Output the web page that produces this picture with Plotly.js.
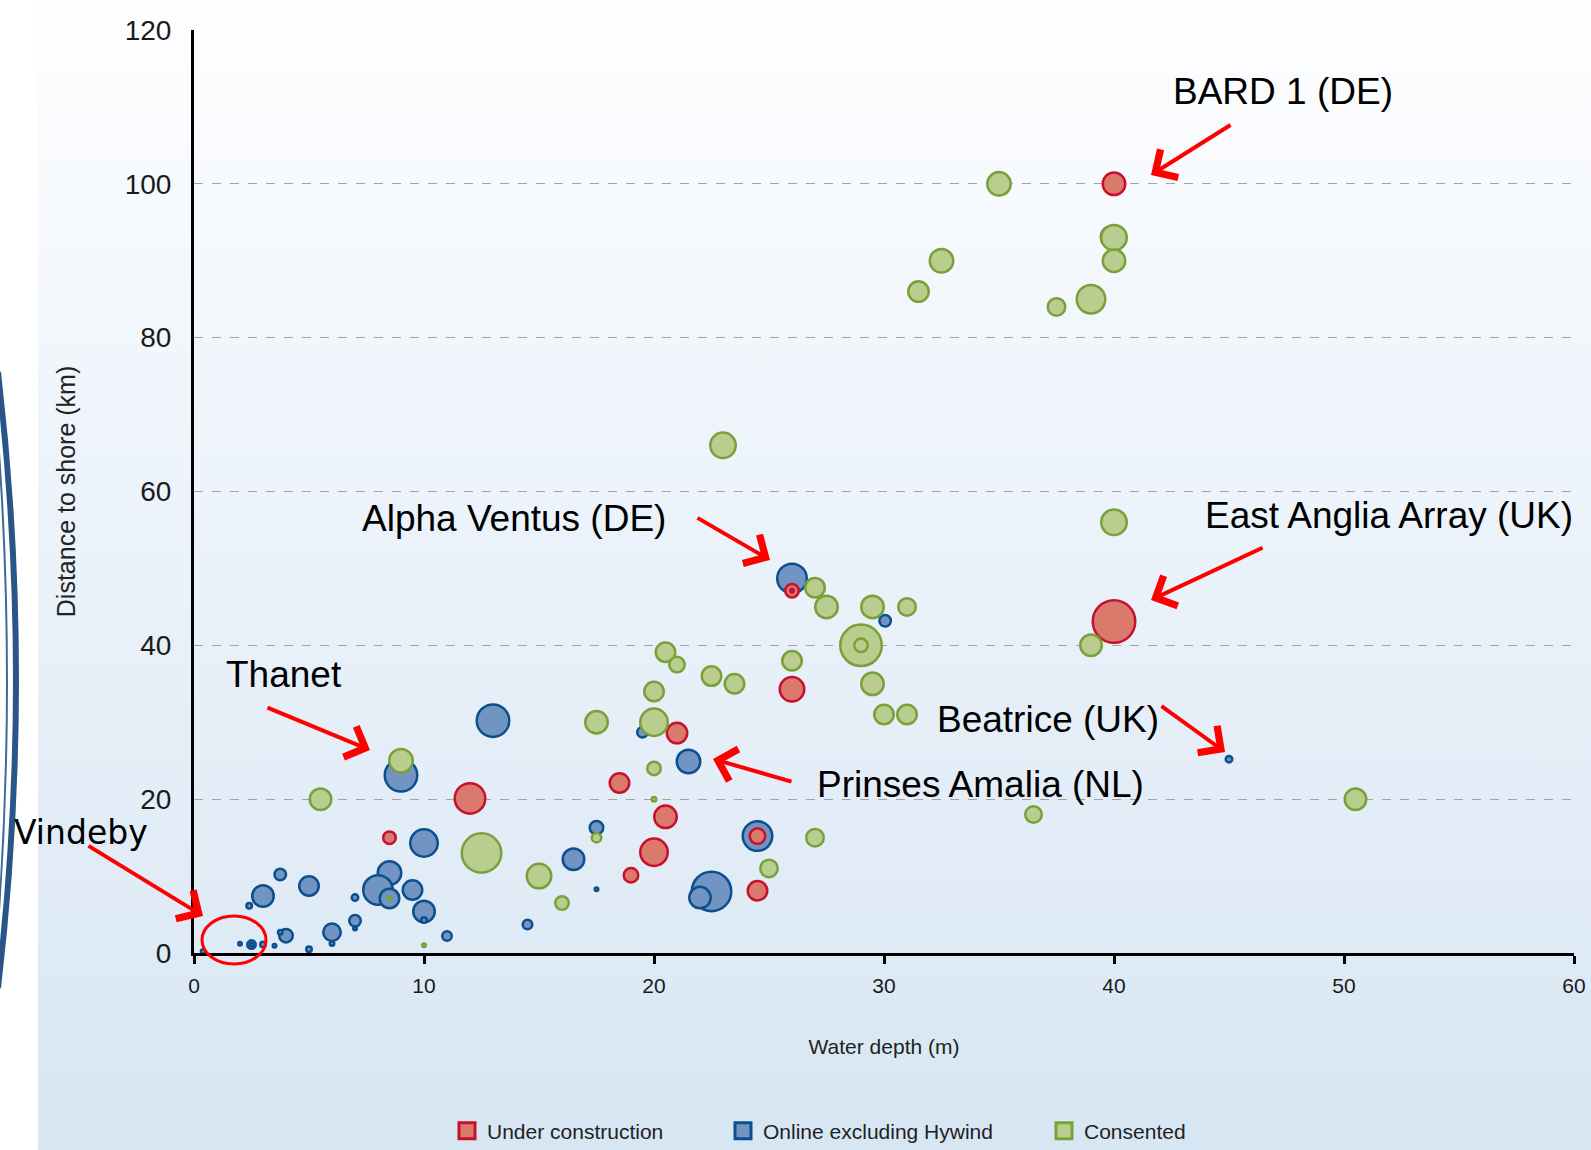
<!DOCTYPE html>
<html><head><meta charset="utf-8">
<script src="https://cdn.plot.ly/plotly-3.0.1.min.js"></script>
<style>
html,body{margin:0;padding:0;background:#fff;overflow:hidden;width:1591px;height:1150px;}
#bg{position:absolute;left:38px;top:0;width:1553px;height:1150px;background:linear-gradient(to bottom,#fefeff 0%,#eff5fb 35%,#e3edf7 70%,#d7e6f3 100%);}
#chart{position:absolute;left:0;top:0;width:1591px;height:1150px;}
</style></head><body><div id="bg"></div><div id="chart"></div>
<script>
// ---- Data: water depth (m), distance to shore (km), bubble diameter (px) ----
const underX = [40, 39.9, 40, 26, 26, 26, 21, 18.5, 12, 20.5, 20, 19, 24.5, 24.5, 8.5];
const underY = [100, 93.1, 43.1, 47.1, 47.1, 34.3, 28.6, 22.1, 20.1, 17.7, 13.1, 10.1, 15.2, 8.1, 15.0];
const underD = [25, 24, 45, 16, 6, 27, 23, 22, 33, 25, 30, 17, 18, 22, 15];

const onlineX = [26, 30.05, 13, 9, 21.5, 19.5, 45, 10, 24.5, 17.5, 16.5, 22.5, 22.0, 17.5, 14.5,
  8.5, 8.0, 8.5, 9.5, 10.0, 10.0, 11.0, 5.0, 3.0, 3.75, 2.4, 7.0, 7.0, 7.0, 6.0, 6.0, 4.0, 3.75,
  5.0, 2.0, 2.5, 2.5, 3.0, 3.5, 0.4];
const onlineY = [48.7, 43.2, 30.2, 23.1, 24.9, 28.7, 25.2, 14.3, 15.2, 16.3, 12.2, 8.0, 7.2, 8.3, 3.7,
  10.4, 8.2, 7.1, 8.2, 5.4, 4.3, 2.2, 8.7, 7.4, 10.2, 6.15, 7.2, 4.2, 3.2, 2.7, 1.25, 2.25, 2.7,
  0.5, 1.2, 1.1, 1.1, 1.1, 0.95, 0.2];
const onlineD = [32, 14, 35, 35, 26, 13, 9, 30, 32, 16, 24, 42, 24, 6, 12,
  26, 32, 22, 22, 24, 8, 12, 22, 24, 14, 8, 9, 14, 6, 20, 7, 16, 7,
  8, 6, 11, 6, 8, 6, 7];

const consX = [35, 40, 40, 32.5, 31.5, 37.5, 39, 23, 40, 39, 27, 27.5, 29.5, 31, 29, 29, 29.5, 30, 31,
  26, 20.5, 21, 22.5, 23.5, 20, 17.5, 20, 20, 20, 9, 5.5, 12.5, 15, 16, 17.5, 25, 27, 36.5, 50.5, 8.5, 10];
const consY = [100, 93, 90, 90, 86, 84, 85, 66, 56, 40, 47.5, 45, 45, 45, 40, 40, 35, 31, 31,
  38, 39.1, 37.5, 36, 35, 34, 30, 30, 24, 20, 25, 20, 13, 10, 6.5, 15, 11, 15, 18, 20, 7.1, 1];
const consD = [26, 28, 25, 26, 23, 20, 31, 28, 28, 24, 22, 25, 25, 20, 44, 16, 25, 22, 22,
  22, 22, 18, 22, 22, 22, 25, 30, 16, 7, 26, 24, 42, 27, 16, 12, 20, 20, 19, 24, 6, 6];

const seriesNames = ['Under construction', 'Online excluding Hywind', 'Consented'];

// Callout labels (pixel positions in the 1591x1150 page) and arrows
const labelText = ['BARD 1 (DE)', 'East Anglia Array (UK)', 'Alpha Ventus (DE)', 'Thanet', 'Beatrice (UK)', 'Prinses Amalia (NL)', 'Vindeby'];
const labelPx = [[1171, 91], [1203, 515], [360, 518], [224, 674], [935, 719], [815, 784], [12, 832]];
// arrow head [px,py] and tail [px,py]
const arrowHead = [[1151, 175], [1151, 600], [1225, 752], [770, 560], [713, 759], [370, 750], [203, 916]];
const arrowTail = [[1232, 124], [1264, 547], [1160, 705], [696, 517], [793, 782], [266, 707], [87, 845]];

// ---- Geometry helpers ----
const W = 1591, H = 1150;
const M = {l: 194, r: 17, t: 30, b: 197};
const PW = W - M.l - M.r, PH = H - M.t - M.b;
const px2paperX = px => (px - M.l) / PW;
const px2paperY = py => (H - M.b - py) / PH;

const LW = 2.5;
function trace(x, y, d, name, fill, line) {
  return {
    type: 'scatter', mode: 'markers', x: x, y: y, name: name,
    showlegend: false, legendgroup: name, hoverinfo: 'x+y+name',
    marker: {size: d.map(v => Math.max(v - LW, 2)), sizemode: 'diameter', color: fill,
      line: {color: line, width: LW}, opacity: 1}
  };
}
const colors = [
  {fill: '#d97a6c', line: '#c8102e'},
  {fill: '#7294c3', line: '#0b4f8e'},
  {fill: '#b9cd8f', line: '#78a13a'}
];
const data = [
  trace(onlineX, onlineY, onlineD, seriesNames[1], colors[1].fill, colors[1].line),
  trace(underX, underY, underD, seriesNames[0], colors[0].fill, colors[0].line),
  trace(consX, consY, consD, seriesNames[2], colors[2].fill, colors[2].line)
];
// legend entries (square swatches) in three separately placed legends
const legendIds = ['legend', 'legend2', 'legend3'];
seriesNames.forEach((n, i) => {
  data.push({type: 'scatter', mode: 'markers', x: [null], y: [null], name: n, legend: legendIds[i],
    legendgroup: n, showlegend: true, hoverinfo: 'skip',
    marker: {symbol: 'square', size: 16, color: colors[i].fill, line: {color: colors[i].line, width: 3}}});
});

const annFont = {family: 'Liberation Sans, Arial, sans-serif', size: 37, color: '#000'};
const annotations = [];
labelText.forEach((t, i) => {
  annotations.push({xref: 'paper', yref: 'paper', x: px2paperX(labelPx[i][0]), y: px2paperY(labelPx[i][1]),
    xanchor: 'left', yanchor: 'middle', showarrow: false, text: t,
    font: t === 'Vindeby' ? {family: 'DejaVu Sans, sans-serif', size: 33, color: '#000'} : annFont});
});
arrowHead.forEach((h, i) => {
  annotations.push({xref: 'paper', yref: 'paper', x: px2paperX(h[0]), y: px2paperY(h[1]),
    ax: arrowTail[i][0] - h[0], ay: arrowTail[i][1] - h[1], axref: 'pixel', ayref: 'pixel',
    text: '', showarrow: true, arrowhead: 4, arrowsize: 1.6, arrowwidth: 4, arrowcolor: '#ff0000', standoff: 0});
});

const shapes = [
  // ellipse around Vindeby
  {type: 'circle', xref: 'paper', yref: 'paper', x0: px2paperX(202), x1: px2paperX(266),
    y0: px2paperY(964), y1: px2paperY(916), line: {color: '#ff0000', width: 3}, fillcolor: 'rgba(0,0,0,0)'},
  // decorative arcs at the left edge
  {type: 'path', xref: 'paper', yref: 'paper', layer: 'above',
    path: `M${px2paperX(-2)},${px2paperY(372)} Q${px2paperX(34)},${px2paperY(680)} ${px2paperX(-2)},${px2paperY(988)}`,
    line: {color: '#2a5588', width: 6}},
  {type: 'path', xref: 'paper', yref: 'paper', layer: 'above',
    path: `M${px2paperX(-6)},${px2paperY(390)} Q${px2paperX(20)},${px2paperY(680)} ${px2paperX(-6)},${px2paperY(975)}`,
    line: {color: '#3d6a9e', width: 2}}
];

const sans = 'Liberation Sans, Arial, sans-serif';
const legBase = {orientation: 'h', xanchor: 'left', yanchor: 'middle', xref: 'container', yref: 'container',
  y: (H - 1131) / H, bgcolor: 'rgba(0,0,0,0)', borderwidth: 0, font: {family: sans, size: 21, color: '#222'}};

const layout = {
  width: W, height: H, margin: M,
  paper_bgcolor: 'rgba(0,0,0,0)', plot_bgcolor: 'rgba(0,0,0,0)',
  font: {family: sans, color: '#1a1a1a'},
  xaxis: {range: [0, 60], dtick: 10, tick0: 0, showgrid: false, zeroline: false,
    showline: true, linecolor: '#000', linewidth: 3, ticks: 'outside', ticklen: 8, tickwidth: 3, tickcolor: '#000',
    tickfont: {size: 21, color: '#1a1a1a'}, ticklabelstandoff: 4, automargin: false,
    title: {text: 'Water depth (m)', font: {family: sans, size: 21, color: '#222'}, standoff: 44}},
  yaxis: {range: [0, 120], dtick: 20, tick0: 0, showgrid: true, gridcolor: '#a3a3a3', griddash: 'dash', gridwidth: 1.3,
    zeroline: false, showline: true, linecolor: '#000', linewidth: 3, ticks: '',
    tickfont: {size: 28, color: '#1a1a1a'}, ticklabelstandoff: 14, automargin: false,
    title: {text: 'Distance to shore (km)', font: {family: sans, size: 25, color: '#222'}, standoff: 42}},
  legend: Object.assign({}, legBase, {x: 447 / W}),
  legend2: Object.assign({}, legBase, {x: 723 / W}),
  legend3: Object.assign({}, legBase, {x: 1044 / W}),
  annotations: annotations,
  shapes: shapes,
  showlegend: true
};

Plotly.newPlot('chart', data, layout, {displayModeBar: false, staticPlot: true});
</script>
</body></html>
